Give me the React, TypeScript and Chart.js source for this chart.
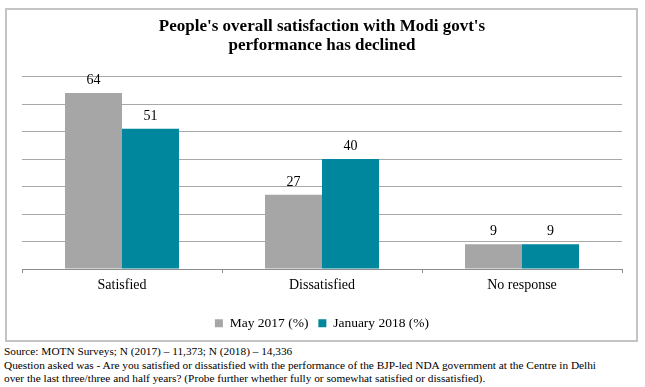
import React, { useEffect, useRef } from "react";
import { Chart, registerables } from "chart.js";

Chart.register(...registerables);

const categories = ["Satisfied", "Dissatisfied", "No response"];
const may2017 = [64, 27, 9];
const jan2018 = [51, 40, 9];
const seriesNames = ["May 2017 (%)", "January 2018 (%)"];
const titleLines = ["People's overall satisfaction with Modi govt's", "performance has declined"];
const footnotes = [
  "Source: MOTN Surveys; N (2017) \u2013 11,373; N (2018) \u2013 14,336",
  "Question asked was - Are you satisfied or dissatisfied with the performance of the BJP-led NDA government at the Centre in Delhi",
  "over the last three/three and half years? (Probe further whether fully or somewhat satisfied or dissatisfied).",
];

const SERIF = "'Liberation Serif', 'Times New Roman', serif";

const valueLabels = {
  id: "valueLabels",
  afterDatasetsDraw(chart: any) {
    const ctx = chart.ctx;
    ctx.save();
    ctx.font = `14px ${SERIF}`;
    ctx.fillStyle = "#000";
    ctx.textAlign = "center";
    ctx.textBaseline = "middle";
    chart.data.datasets.forEach((ds: any, i: number) => {
      const meta = chart.getDatasetMeta(i);
      meta.data.forEach((bar: any, j: number) => {
        ctx.fillText(String(ds.data[j]), bar.x, bar.y - 12.5);
      });
    });
    ctx.restore();
  },
};

export default function App() {
  const ref = useRef<HTMLCanvasElement>(null);
  useEffect(() => {
    if (!ref.current) return;
    const chart = new Chart(ref.current, {
      type: "bar",
      data: {
        labels: categories,
        datasets: [
          { label: seriesNames[0], data: may2017, backgroundColor: "#a6a6a6", borderWidth: 0 },
          { label: seriesNames[1], data: jan2018, backgroundColor: "#00869d", borderWidth: 0 },
        ],
      },
      options: {
        animation: false,
        responsive: false,
        maintainAspectRatio: false,
        datasets: { bar: { barPercentage: 1, categoryPercentage: 0.57 } },
        layout: { padding: { left: 15, right: 14, top: 0, bottom: 0 } },
        plugins: {
          title: {
            display: true,
            text: titleLines,
            color: "#000",
            font: { family: SERIF, size: 17, weight: "bold", lineHeight: 19 / 17 },
            padding: { top: 7.5, bottom: 21 },
          },
          legend: {
            display: true,
            position: "bottom",
            labels: {
              boxWidth: 8,
              boxHeight: 8,
              padding: 10,
              color: "#000",
              font: { family: SERIF, size: 13.5 },
            },
          },
          tooltip: { enabled: false },
        },
        scales: {
          x: {
            grid: {
              display: true,
              drawOnChartArea: false,
              drawTicks: true,
              tickLength: 4,
              color: "#8c8c8c",
            },
            border: { display: true, color: "#8c8c8c", width: 1 },
            ticks: { color: "#000", padding: 4, font: { family: SERIF, size: 14 } },
            afterFit: (s: any) => {
              s.height = 37.5;
            },
          },
          y: {
            min: 0,
            max: 70,
            ticks: { display: false, stepSize: 10 },
            grid: { color: "#a8a8a8", drawTicks: false, lineWidth: 1 },
            border: { display: false },
            afterFit: (s: any) => {
              s.width = 0;
            },
          },
        },
      },
      plugins: [valueLabels],
    });
    return () => chart.destroy();
  }, []);

  return (
    <div style={{ position: "absolute", left: 0, top: 0, width: 645, height: 387, background: "#fff" }}>
      <div
        style={{
          position: "absolute",
          left: 5,
          top: 8,
          width: 633,
          height: 334,
          boxSizing: "border-box",
          border: "2px solid #c4c4c4",
        }}
      >
        <canvas ref={ref} width={629} height={330} style={{ position: "absolute", left: 0, top: 0, width: 629, height: 330 }} />
      </div>
      <div
        style={{
          position: "absolute",
          left: 4,
          top: 345,
          fontFamily: SERIF,
          fontSize: 11.3,
          lineHeight: "13.5px",
          color: "#000",
          whiteSpace: "nowrap",
        }}
      >
        {footnotes.map((t, i) => (
          <div key={i}>{t}</div>
        ))}
      </div>
    </div>
  );
}
